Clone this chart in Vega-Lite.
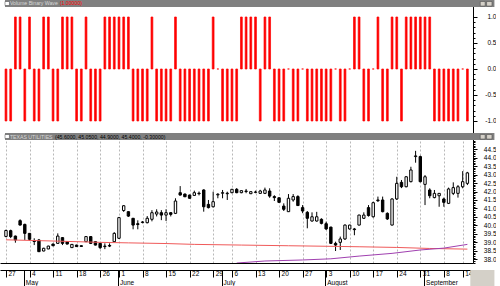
{
"$schema": "https://vega.github.io/schema/vega-lite/v6.json",
"padding": 0,
"background": "white",
"spacing": 0,
"config": {"view": {"stroke": null}, "axis": {"labelFont": "Liberation Sans", "labelFontSize": 6.5, "labelColor": "#000", "tickColor": "#000", "domainColor": "#000", "labelFlush": false, "labelOverlap": false}},
"datasets": {
"wave": [{"i":0,"v":-1},{"i":1,"v":-1},{"i":2,"v":1},{"i":3,"v":1},{"i":4,"v":-1},{"i":5,"v":1},{"i":6,"v":-1},{"i":7,"v":-1},{"i":8,"v":1},{"i":9,"v":1},{"i":10,"v":-1},{"i":11,"v":-1},{"i":12,"v":1},{"i":13,"v":1},{"i":14,"v":1},{"i":15,"v":-1},{"i":16,"v":-1},{"i":17,"v":1},{"i":18,"v":-1},{"i":19,"v":-1},{"i":20,"v":-1},{"i":21,"v":1},{"i":22,"v":1},{"i":23,"v":1},{"i":24,"v":1},{"i":25,"v":1},{"i":26,"v":1},{"i":27,"v":-1},{"i":28,"v":-1},{"i":29,"v":-1},{"i":30,"v":-1},{"i":31,"v":1},{"i":32,"v":-1},{"i":33,"v":-1},{"i":34,"v":-1},{"i":35,"v":-1},{"i":36,"v":1},{"i":37,"v":-1},{"i":38,"v":-1},{"i":39,"v":-1},{"i":40,"v":-1},{"i":41,"v":-1},{"i":42,"v":-1},{"i":43,"v":-1},{"i":44,"v":1},{"i":45,"v":0},{"i":46,"v":-1},{"i":47,"v":-1},{"i":48,"v":-1},{"i":49,"v":-1},{"i":50,"v":1},{"i":51,"v":1},{"i":52,"v":1},{"i":53,"v":1},{"i":54,"v":-1},{"i":55,"v":1},{"i":56,"v":1},{"i":57,"v":-1},{"i":58,"v":-1},{"i":59,"v":-1},{"i":60,"v":0},{"i":61,"v":-1},{"i":62,"v":-1},{"i":63,"v":0},{"i":64,"v":-1},{"i":65,"v":-1},{"i":66,"v":-1},{"i":67,"v":-1},{"i":68,"v":-1},{"i":69,"v":-1},{"i":70,"v":0},{"i":71,"v":-1},{"i":72,"v":-1},{"i":73,"v":0},{"i":74,"v":1},{"i":75,"v":1},{"i":76,"v":-1},{"i":77,"v":-1},{"i":78,"v":0},{"i":79,"v":1},{"i":80,"v":-1},{"i":81,"v":-1},{"i":82,"v":1},{"i":83,"v":1},{"i":84,"v":-1},{"i":85,"v":1},{"i":86,"v":1},{"i":87,"v":1},{"i":88,"v":1},{"i":89,"v":1},{"i":90,"v":1},{"i":91,"v":-1},{"i":92,"v":-1},{"i":93,"v":-1},{"i":94,"v":-1},{"i":95,"v":-1},{"i":96,"v":-1},{"i":97,"v":0},{"i":98,"v":-1}],
"candles": [
{"i":0,"o":39.35,"h":39.75,"l":39.3,"c":39.7},
{"i":1,"o":39.69,"h":39.75,"l":39.25,"c":39.34},
{"i":2,"o":39.37,"h":39.4,"l":38.98,"c":39.14},
{"i":3,"o":40.28,"h":40.36,"l":40.0,"c":40.02},
{"i":4,"o":40.06,"h":40.1,"l":39.14,"c":39.53},
{"i":5,"o":39.53,"h":39.55,"l":39.1,"c":39.18},
{"i":6,"o":39.1,"h":39.24,"l":38.84,"c":39.05},
{"i":7,"o":39.14,"h":39.2,"l":38.43,"c":38.45},
{"i":8,"o":38.49,"h":38.68,"l":38.47,"c":38.65},
{"i":9,"o":38.61,"h":38.8,"l":38.6,"c":38.78},
{"i":10,"o":38.9,"h":38.93,"l":38.78,"c":38.8},
{"i":11,"o":38.94,"h":39.53,"l":38.92,"c":39.37},
{"i":12,"o":39.28,"h":39.3,"l":38.84,"c":38.94},
{"i":13,"o":39.04,"h":39.06,"l":38.88,"c":38.9},
{"i":14,"o":38.69,"h":38.9,"l":38.67,"c":38.88},
{"i":15,"o":38.84,"h":38.86,"l":38.73,"c":38.75},
{"i":16,"o":38.8,"h":38.82,"l":38.74,"c":38.76},
{"i":17,"o":39.04,"h":39.36,"l":39.02,"c":39.34},
{"i":18,"o":39.34,"h":39.36,"l":38.9,"c":38.94},
{"i":19,"o":39.04,"h":39.06,"l":38.82,"c":38.84},
{"i":20,"o":38.94,"h":38.96,"l":38.6,"c":38.69},
{"i":21,"o":38.75,"h":38.94,"l":38.6,"c":38.78},
{"i":22,"o":38.82,"h":38.94,"l":38.72,"c":38.78},
{"i":23,"o":39.04,"h":39.6,"l":39.02,"c":39.53},
{"i":24,"o":39.24,"h":40.5,"l":39.2,"c":40.46},
{"i":25,"o":40.88,"h":41.2,"l":40.8,"c":41.16},
{"i":26,"o":40.81,"h":40.83,"l":40.5,"c":40.55},
{"i":27,"o":40.42,"h":40.44,"l":39.77,"c":40.02},
{"i":28,"o":40.1,"h":40.3,"l":39.77,"c":40.05},
{"i":29,"o":40.2,"h":40.25,"l":40.12,"c":40.18},
{"i":30,"o":40.16,"h":40.55,"l":40.12,"c":40.42},
{"i":31,"o":40.36,"h":40.9,"l":40.24,"c":40.75},
{"i":32,"o":40.67,"h":40.95,"l":40.53,"c":40.79},
{"i":33,"o":40.75,"h":40.9,"l":40.31,"c":40.61},
{"i":34,"o":40.61,"h":40.95,"l":40.26,"c":40.75},
{"i":35,"o":40.75,"h":40.78,"l":40.53,"c":40.65},
{"i":36,"o":40.71,"h":41.6,"l":40.67,"c":41.44},
{"i":37,"o":41.93,"h":42.32,"l":41.77,"c":41.79},
{"i":38,"o":41.85,"h":41.88,"l":41.67,"c":41.69},
{"i":39,"o":41.79,"h":41.82,"l":41.58,"c":41.6},
{"i":40,"o":41.77,"h":42.05,"l":41.75,"c":41.93},
{"i":41,"o":41.9,"h":42.0,"l":41.77,"c":41.87},
{"i":42,"o":42.09,"h":42.13,"l":40.81,"c":41.1},
{"i":43,"o":41.24,"h":41.5,"l":41.0,"c":41.05},
{"i":44,"o":41.1,"h":41.99,"l":41.06,"c":41.4},
{"i":45,"o":41.8,"h":41.9,"l":41.6,"c":41.84},
{"i":46,"o":41.9,"h":42.09,"l":41.6,"c":41.93},
{"i":47,"o":41.87,"h":41.99,"l":41.5,"c":41.9},
{"i":48,"o":41.93,"h":42.15,"l":41.9,"c":42.13},
{"i":49,"o":42.13,"h":42.2,"l":41.9,"c":41.93},
{"i":50,"o":41.93,"h":42.07,"l":41.9,"c":42.05},
{"i":51,"o":42.0,"h":42.15,"l":41.9,"c":42.03},
{"i":52,"o":41.87,"h":42.0,"l":41.85,"c":41.99},
{"i":53,"o":41.95,"h":42.05,"l":41.9,"c":41.97},
{"i":54,"o":41.89,"h":42.1,"l":41.87,"c":42.03},
{"i":55,"o":41.89,"h":42.23,"l":41.85,"c":42.09},
{"i":56,"o":42.03,"h":42.19,"l":41.63,"c":41.73},
{"i":57,"o":41.7,"h":41.78,"l":41.44,"c":41.64},
{"i":58,"o":41.63,"h":41.65,"l":41.34,"c":41.36},
{"i":59,"o":41.14,"h":41.3,"l":40.85,"c":40.95},
{"i":60,"o":40.81,"h":41.85,"l":40.8,"c":41.6},
{"i":61,"o":41.5,"h":41.85,"l":41.4,"c":41.7},
{"i":62,"o":41.7,"h":41.78,"l":41.15,"c":41.17},
{"i":63,"o":41.05,"h":41.2,"l":40.72,"c":40.85},
{"i":64,"o":40.77,"h":40.85,"l":39.83,"c":40.42},
{"i":65,"o":40.26,"h":40.77,"l":40.22,"c":40.51},
{"i":66,"o":40.26,"h":40.8,"l":40.22,"c":40.51},
{"i":67,"o":40.36,"h":40.42,"l":40.06,"c":40.12},
{"i":68,"o":40.1,"h":40.22,"l":39.73,"c":39.79},
{"i":69,"o":39.9,"h":39.92,"l":38.9,"c":38.94},
{"i":70,"o":38.94,"h":39.04,"l":38.49,"c":38.84},
{"i":71,"o":39.0,"h":39.34,"l":38.55,"c":39.2},
{"i":72,"o":39.2,"h":40.06,"l":39.14,"c":40.02},
{"i":73,"o":39.79,"h":40.04,"l":39.75,"c":40.02},
{"i":74,"o":39.79,"h":39.85,"l":39.42,"c":39.75},
{"i":75,"o":40.02,"h":40.63,"l":40.0,"c":40.61},
{"i":76,"o":40.42,"h":40.77,"l":40.38,"c":40.61},
{"i":77,"o":41.05,"h":41.2,"l":40.52,"c":40.58},
{"i":78,"o":40.51,"h":41.4,"l":40.46,"c":41.34},
{"i":79,"o":41.5,"h":41.7,"l":41.38,"c":41.46},
{"i":80,"o":41.5,"h":41.7,"l":40.77,"c":40.81},
{"i":81,"o":40.71,"h":40.77,"l":40.32,"c":40.38},
{"i":82,"o":40.02,"h":41.6,"l":40.0,"c":41.56},
{"i":83,"o":41.56,"h":42.87,"l":41.5,"c":42.48},
{"i":84,"o":42.54,"h":42.68,"l":42.2,"c":42.28},
{"i":85,"o":42.28,"h":42.9,"l":42.25,"c":42.87},
{"i":86,"o":42.58,"h":43.46,"l":42.54,"c":43.27},
{"i":87,"o":44.06,"h":44.4,"l":43.7,"c":44.1},
{"i":88,"o":44.06,"h":44.12,"l":42.54,"c":42.58},
{"i":89,"o":42.42,"h":42.97,"l":41.2,"c":42.87},
{"i":90,"o":42.09,"h":42.19,"l":41.6,"c":41.75},
{"i":91,"o":41.64,"h":42.09,"l":41.6,"c":41.89},
{"i":92,"o":41.75,"h":41.9,"l":41.1,"c":41.89},
{"i":93,"o":41.56,"h":41.64,"l":41.1,"c":41.36},
{"i":94,"o":41.3,"h":42.23,"l":41.26,"c":42.15},
{"i":95,"o":41.89,"h":42.54,"l":41.79,"c":42.23},
{"i":96,"o":41.89,"h":42.38,"l":41.64,"c":42.28},
{"i":97,"o":42.28,"h":43.2,"l":42.19,"c":42.58},
{"i":98,"o":42.48,"h":43.16,"l":42.38,"c":43.1}
],
"ma": [{"i":0,"p":39.15},{"i":10,"p":39.08},{"i":20,"p":39.0},{"i":26,"p":38.97},{"i":34,"p":38.93},{"i":40,"p":38.88},{"i":50,"p":38.84},{"i":60,"p":38.8},{"i":68,"p":38.77},{"i":75,"p":38.74},{"i":83,"p":38.7},{"i":90,"p":38.64},{"i":98,"p":38.6}],
"trend": [{"i":49,"p":37.78},{"i":55,"p":37.9},{"i":63,"p":37.96},{"i":69,"p":38.03},{"i":75,"p":38.19},{"i":82,"p":38.35},{"i":88,"p":38.55},{"i":93,"p":38.66},{"i":98,"p":38.88}]
},
"vconcat": [
{
"width": 473, "height": 133,
"resolve": {"axis": {"y": "independent"}},
"layer": [
{"data": {"name": "wave"},
 "mark": {"type": "bar", "fill": "#ff0000", "stroke": "#ff0000", "strokeWidth": 0.7, "size": 1.8},
 "encoding": {
  "x": {"field": "i", "type": "quantitative", "scale": {"domain": [-0.2079, 98.129], "nice": false, "zero": false},
        "axis": {"orient": "bottom", "values": [0,5,10,15,20,24,29,34,39,44,48,53,58,63,68,73,78,83,88,93,97], "grid": true, "gridDash": [2,2], "gridColor": "#b8b8b8", "labels": false, "ticks": false, "domain": false, "title": null}},
  "y": {"field": "v", "type": "quantitative", "scale": {"domain": [-1.2308, 1.3269], "nice": false, "zero": false},
        "axis": {"orient": "right", "title": null, "grid": false, "domain": true,
                 "values": [-1,-0.5,0,0.5,1],
                 "labelExpr": "(datum.value<0?'-':'')+format(abs(datum.value),'.1f')",
                 "tickSize": 4, "labelAlign": "right", "labelPadding": 19, "labelBaseline": "middle"}},
  "y2": {"datum": 0}
 }},
{"data": {"values": [{}]},
 "mark": {"type": "rect", "fill": "#808080"},
 "encoding": {
  "x": {"datum": -0.2079, "type": "quantitative", "axis": null}, "x2": {"datum": 103.74},
  "y": {"datum": 1.3269, "type": "quantitative",
        "axis": {"orient": "right", "title": null, "grid": false, "domain": false, "labels": false, "tickSize": 2,
                 "values": [-1,-0.9,-0.8,-0.7,-0.6,-0.5,-0.4,-0.3,-0.2,-0.1,0,0.1,0.2,0.3,0.4,0.5,0.6,0.7,0.8,0.9,1]}},
  "y2": {"datum": 1.1923}
 }},
{"data": {"values": [{}]},
 "mark": {"type": "rect", "fill": "#ffffff", "stroke": "#404040", "strokeWidth": 0.5},
 "encoding": {
  "x": {"datum": -0.2079, "type": "quantitative", "axis": null}, "x2": {"datum": 0.73},
  "y": {"datum": 1.298, "type": "quantitative", "axis": null}, "y2": {"datum": 1.221}
 }},
{"data": {"values": [{}]},
 "mark": {"type": "rect", "fill": "#d4d0c8", "stroke": "#404040", "strokeWidth": 0.5},
 "encoding": {
  "x": {"datum": 100.73, "type": "quantitative", "axis": null}, "x2": {"datum": 101.77},
  "y": {"datum": 1.298, "type": "quantitative", "axis": null}, "y2": {"datum": 1.2115}
 }},
{"data": {"values": [{}]},
 "mark": {"type": "rect", "fill": "#d4d0c8", "stroke": "#404040", "strokeWidth": 0.5},
 "encoding": {
  "x": {"datum": 102.08, "type": "quantitative", "axis": null}, "x2": {"datum": 103.22},
  "y": {"datum": 1.298, "type": "quantitative", "axis": null}, "y2": {"datum": 1.2115}
 }},
{"data": {"values": [{"t": "Volume Binary Wave"}]},
 "mark": {"type": "text", "align": "left", "baseline": "middle", "font": "Liberation Sans", "fontSize": 5.2, "color": "#d8d8d8"},
 "encoding": {
  "x": {"datum": 0.83, "type": "quantitative", "axis": null},
  "y": {"datum": 1.2596, "type": "quantitative", "axis": null},
  "text": {"field": "t"}
 }},
{"data": {"values": [{"t": "(1.00000)"}]},
 "mark": {"type": "text", "align": "left", "baseline": "middle", "font": "Liberation Sans", "fontSize": 5.2, "color": "#ff0000"},
 "encoding": {
  "x": {"datum": 11.43, "type": "quantitative", "axis": null},
  "y": {"datum": 1.2596, "type": "quantitative", "axis": null},
  "text": {"field": "t"}
 }}
]
},
{
"width": 473, "height": 130,
"resolve": {"axis": {"x": "independent", "y": "independent"}},
"layer": [
{"data": {"name": "candles"},
 "mark": {"type": "rule", "color": "#000", "strokeWidth": 1},
 "encoding": {
  "x": {"field": "i", "type": "quantitative", "scale": {"domain": [-0.2079, 98.129], "nice": false, "zero": false},
        "axis": {"orient": "bottom", "offset": 0, "values": [0,5,10,15,20,24,29,34,39,44,48,53,58,63,68,73,78,83,88,93,97], "grid": true, "gridDash": [2,2], "gridColor": "#b8b8b8", "labels": false, "ticks": false, "domain": true, "title": null}},
  "y": {"field": "l", "type": "quantitative", "scale": {"domain": [37.782, 45.452], "nice": false, "zero": false},
        "axis": {"orient": "right", "title": null, "grid": false, "domain": true,
                 "values": [38,38.5,39,39.5,40,40.5,41,41.5,42,42.5,43,43.5,44,44.5],
                 "format": ".1f",
                 "tickSize": 4, "labelAlign": "right", "labelPadding": 19, "labelBaseline": "middle"}},
  "y2": {"field": "h"}
 }},
{"data": {"name": "candles"},
 "mark": {"type": "bar", "stroke": "#000", "strokeWidth": 1, "size": 2.4},
 "encoding": {
  "x": {"field": "i", "type": "quantitative", "scale": {"domain": [-0.2079, 98.129], "nice": false, "zero": false},
        "axis": {"orient": "bottom", "offset": 7, "values": [0,5,10,15,20,24,29,34,39,44,48,53,58,63,68,73,78,83,88,93,97],
                 "labelExpr": "['27','4','11','18','26','1','8','15','22','29','6','13','20','27','3','10','17','24','31','8','14'][indexof([0,5,10,15,20,24,29,34,39,44,48,53,58,63,68,73,78,83,88,93,97], datum.value)]",
                 "tickSize": 7, "labelPadding": -7, "labelAlign": "left", "labelBaseline": "top", "labelOffset": 2, "labelAngle": 0, "grid": false, "domain": true, "title": null}},
  "y": {"field": "o", "type": "quantitative", "scale": {"domain": [37.782, 45.452], "nice": false, "zero": false},
        "axis": {"orient": "right", "title": null, "grid": false, "domain": false, "labels": false, "tickSize": 2,
                 "values": [37.8,37.9,38,38.1,38.2,38.3,38.4,38.5,38.6,38.7,38.8,38.9,39,39.1,39.2,39.3,39.4,39.5,39.6,39.7,39.8,39.9,40,40.1,40.2,40.3,40.4,40.5,40.6,40.7,40.8,40.9,41,41.1,41.2,41.3,41.4,41.5,41.6,41.7,41.8,41.9,42,42.1,42.2,42.3,42.4,42.5,42.6,42.7,42.8,42.9,43,43.1,43.2,43.3,43.4,43.5,43.6,43.7,43.8,43.9,44,44.1,44.2,44.3,44.4,44.5,44.6,44.7,44.8,44.9,45]}},
  "y2": {"field": "c"},
  "fill": {"condition": {"test": "datum.c >= datum.o", "value": "#ffffff"}, "value": "#000000"}
 }},
{"data": {"name": "ma"},
 "mark": {"type": "line", "color": "#f05a5a", "strokeWidth": 1, "clip": true},
 "encoding": {
  "x": {"field": "i", "type": "quantitative", "scale": {"domain": [-0.2079, 98.129], "nice": false, "zero": false},
        "axis": {"orient": "bottom", "offset": 7, "values": [3.8,23.8,45.8,67.8,88.8],
                 "labelExpr": "['May','June','July','August','September'][indexof([3.8,23.8,45.8,67.8,88.8], datum.value)]",
                 "tickSize": 16, "labelPadding": -7, "labelAlign": "left", "labelBaseline": "top", "labelOffset": 1.5, "labelAngle": 0, "grid": false, "domain": false, "title": null}},
  "y": {"field": "p", "type": "quantitative", "scale": {"domain": [37.782, 45.452], "nice": false, "zero": false}, "axis": null}
 }},
{"data": {"name": "trend"},
 "mark": {"type": "line", "color": "#a040b0", "strokeWidth": 1, "clip": true},
 "encoding": {
  "x": {"field": "i", "type": "quantitative", "axis": null},
  "y": {"field": "p", "type": "quantitative", "axis": null}
 }},
{"data": {"values": [{}]},
 "mark": {"type": "rect", "fill": "#808080"},
 "encoding": {
  "x": {"datum": -0.2079, "type": "quantitative", "axis": null}, "x2": {"datum": 103.74},
  "y": {"datum": 45.452, "type": "quantitative", "axis": null}, "y2": {"datum": 45.039}
 }},
{"data": {"values": [{}]},
 "mark": {"type": "rect", "fill": "#ffffff", "stroke": "#404040", "strokeWidth": 0.5},
 "encoding": {
  "x": {"datum": -0.2079, "type": "quantitative", "axis": null}, "x2": {"datum": 0.73},
  "y": {"datum": 45.364, "type": "quantitative", "axis": null}, "y2": {"datum": 45.128}
 }},
{"data": {"values": [{}]},
 "mark": {"type": "rect", "fill": "#d4d0c8", "stroke": "#404040", "strokeWidth": 0.5},
 "encoding": {
  "x": {"datum": 100.73, "type": "quantitative", "axis": null}, "x2": {"datum": 101.77},
  "y": {"datum": 45.364, "type": "quantitative", "axis": null}, "y2": {"datum": 45.098}
 }},
{"data": {"values": [{}]},
 "mark": {"type": "rect", "fill": "#d4d0c8", "stroke": "#404040", "strokeWidth": 0.5},
 "encoding": {
  "x": {"datum": 102.08, "type": "quantitative", "axis": null}, "x2": {"datum": 103.22},
  "y": {"datum": 45.364, "type": "quantitative", "axis": null}, "y2": {"datum": 45.098}
 }},
{"data": {"values": [{}]},
 "mark": {"type": "rect", "fill": "#d4d0c8"},
 "encoding": {
  "x": {"datum": 98.62, "type": "quantitative", "axis": null}, "x2": {"datum": 103.74},
  "y": {"datum": 37.369, "type": "quantitative", "axis": null}, "y2": {"datum": 36.425}
 }},
{"data": {"values": [{"t": "TEXAS UTILITIES"}]},
 "mark": {"type": "text", "align": "left", "baseline": "middle", "font": "Liberation Sans", "fontSize": 5.2, "color": "#d8d8d8"},
 "encoding": {
  "x": {"datum": 0.83, "type": "quantitative", "axis": null},
  "y": {"datum": 45.245, "type": "quantitative", "axis": null},
  "text": {"field": "t"}
 }},
{"data": {"values": [{"t": "(45.6000, 45.0500, 44.9000, 45.4000, -0.30000)"}]},
 "mark": {"type": "text", "align": "left", "baseline": "middle", "font": "Liberation Sans", "fontSize": 5.2, "color": "#000000"},
 "encoding": {
  "x": {"datum": 10.4, "type": "quantitative", "axis": null},
  "y": {"datum": 45.245, "type": "quantitative", "axis": null},
  "text": {"field": "t"}
 }}
]
}
]
}
